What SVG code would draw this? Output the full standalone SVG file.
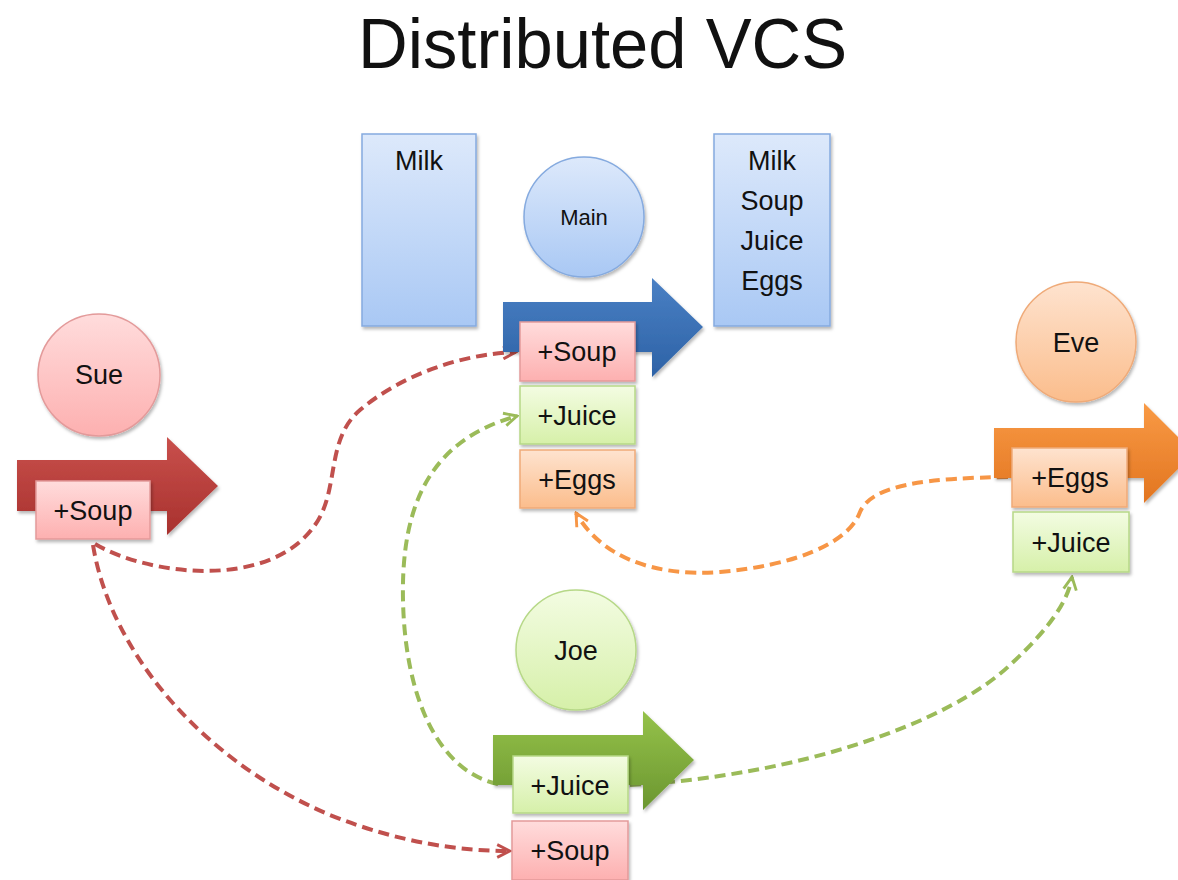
<svg xmlns="http://www.w3.org/2000/svg" width="1178" height="880" viewBox="0 0 1178 880">
<defs>
<filter id="sh" x="-20%" y="-20%" width="140%" height="150%"><feDropShadow dx="1.5" dy="2.5" stdDeviation="1.8" flood-color="#000" flood-opacity="0.28"/></filter>
<linearGradient id="gBlue" x1="0" y1="0" x2="0" y2="1"><stop offset="0" stop-color="#dde9fb"/><stop offset="1" stop-color="#a9c8f4"/></linearGradient>
<linearGradient id="gRed" x1="0" y1="0" x2="0" y2="1"><stop offset="0" stop-color="#ffdcdc"/><stop offset="1" stop-color="#fdb0b0"/></linearGradient>
<linearGradient id="gGreen" x1="0" y1="0" x2="0" y2="1"><stop offset="0" stop-color="#f3fce2"/><stop offset="1" stop-color="#d6f0a9"/></linearGradient>
<linearGradient id="gOrange" x1="0" y1="0" x2="0" y2="1"><stop offset="0" stop-color="#fee3cf"/><stop offset="1" stop-color="#fbbd8c"/></linearGradient>
<linearGradient id="aBlue" x1="0" y1="0" x2="0" y2="1"><stop offset="0" stop-color="#4a80c4"/><stop offset="1" stop-color="#2d62a6"/></linearGradient>
<linearGradient id="aRed" x1="0" y1="0" x2="0" y2="1"><stop offset="0" stop-color="#c9504c"/><stop offset="1" stop-color="#a8312e"/></linearGradient>
<linearGradient id="aGreen" x1="0" y1="0" x2="0" y2="1"><stop offset="0" stop-color="#95c24a"/><stop offset="1" stop-color="#6b9630"/></linearGradient>
<linearGradient id="aOrange" x1="0" y1="0" x2="0" y2="1"><stop offset="0" stop-color="#f99a45"/><stop offset="1" stop-color="#e27520"/></linearGradient>
<marker id="mRed" viewBox="0 0 10 10" refX="9" refY="5" markerWidth="4" markerHeight="4" orient="auto"><path d="M1,1 L9,5 L1,9" fill="none" stroke="#c0504d" stroke-width="1.8"/></marker>
<marker id="mGreen" viewBox="0 0 10 10" refX="9" refY="5" markerWidth="4" markerHeight="4" orient="auto"><path d="M1,1 L9,5 L1,9" fill="none" stroke="#9bbb59" stroke-width="1.8"/></marker>
<marker id="mOrange" viewBox="0 0 10 10" refX="9" refY="5" markerWidth="4" markerHeight="4" orient="auto"><path d="M1,1 L9,5 L1,9" fill="none" stroke="#f79646" stroke-width="1.8"/></marker>
</defs>
<style>
text{font-family:"Liberation Sans",Arial,sans-serif;fill:#111;text-anchor:middle}
.title{font-size:70px;text-anchor:start}
.lbl{font-size:27px}
.small{font-size:22px}
.conn{fill:none;stroke-width:4;stroke-dasharray:11 6}
.red{stroke:#c0504d}
.green{stroke:#9bbb59}
.orange{stroke:#f79646}
.bx-blue{fill:url(#gBlue);stroke:#85aadf;stroke-width:1.5;filter:url(#sh)}
.bx-red{fill:url(#gRed);stroke:#e39a9a;stroke-width:1.5;filter:url(#sh)}
.bx-green{fill:url(#gGreen);stroke:#b6d887;stroke-width:1.5;filter:url(#sh)}
.bx-orange{fill:url(#gOrange);stroke:#efaa78;stroke-width:1.5;filter:url(#sh)}
</style>
<rect width="1178" height="880" fill="#fff"/>
<text class="title" x="358" y="68" textLength="489" lengthAdjust="spacingAndGlyphs">Distributed VCS</text>

<g id="connectors">
<path class="conn red" d="M95,544 C150,576 270,590 315,525 C340,490 325,440 360,410 C400,376 460,354 516,352" marker-end="url(#mRed)"/>
<path class="conn red" d="M93,545 C110,650 200,760 330,815 C400,843 460,851 510,851" marker-end="url(#mRed)"/>
<path class="conn green" d="M498,784 C440,772 405,700 403,600 C401,505 430,440 517,416" marker-end="url(#mGreen)"/>
<path class="conn green" d="M630,785 C800,776 950,722 1010,665 C1048,630 1068,602 1072,577" marker-end="url(#mGreen)"/>
<path class="conn orange" d="M1008,477 C930,478 872,484 860,512 C848,545 790,566 720,572 C650,577 600,555 576,513" marker-end="url(#mOrange)"/>
</g>

<g id="repo-before">
<rect class="bx-blue" x="362" y="134" width="114" height="192"/>
<text class="lbl" x="419" y="170">Milk</text>
</g>

<g id="repo-after">
<rect class="bx-blue" x="714" y="134" width="116" height="192"/>
<text class="lbl" x="772" y="170">Milk</text>
<text class="lbl" x="772" y="210">Soup</text>
<text class="lbl" x="772" y="250">Juice</text>
<text class="lbl" x="772" y="290">Eggs</text>
</g>

<g id="main">
<circle class="bx-blue" cx="584" cy="217" r="60"/>
<text class="small" x="584" y="225">Main</text>
<path d="M503,302 H652 V278 L703,327 L652,377 V352 H503 Z" fill="url(#aBlue)" filter="url(#sh)"/>
<g id="main-soup"><rect class="bx-red" x="520" y="322" width="115" height="59"/><text class="lbl" x="577" y="361">+Soup</text></g>
<g id="main-juice"><rect class="bx-green" x="520" y="386" width="115" height="58"/><text class="lbl" x="577" y="425">+Juice</text></g>
<g id="main-eggs"><rect class="bx-orange" x="520" y="450" width="115" height="58"/><text class="lbl" x="577" y="489">+Eggs</text></g>
</g>

<g id="sue">
<circle class="bx-red" cx="99" cy="375" r="61"/>
<text class="lbl" x="99" y="384">Sue</text>
<path d="M17,460 H167 V437 L218,486 L167,535 V511 H17 Z" fill="url(#aRed)" filter="url(#sh)"/>
<g id="sue-soup"><rect class="bx-red" x="36" y="481" width="114" height="58"/><text class="lbl" x="93" y="520">+Soup</text></g>
</g>

<g id="eve">
<circle class="bx-orange" cx="1076" cy="342" r="60"/>
<text class="lbl" x="1076" y="352">Eve</text>
<path d="M994,428 H1144 V403 L1194,453 L1144,503 V478 H994 Z" fill="url(#aOrange)" filter="url(#sh)"/>
<g id="eve-eggs"><rect class="bx-orange" x="1012" y="448" width="115" height="59"/><text class="lbl" x="1070" y="487">+Eggs</text></g>
<g id="eve-juice"><rect class="bx-green" x="1013" y="512" width="116" height="60"/><text class="lbl" x="1071" y="552">+Juice</text></g>
</g>

<g id="joe">
<circle class="bx-green" cx="576" cy="650" r="60"/>
<text class="lbl" x="576" y="660">Joe</text>
<path d="M493,735 H643 V711 L694,760 L643,810 V785 H493 Z" fill="url(#aGreen)" filter="url(#sh)"/>
<g id="joe-juice"><rect class="bx-green" x="513" y="756" width="115" height="57"/><text class="lbl" x="570" y="795">+Juice</text></g>
<g id="joe-soup"><rect class="bx-red" x="512" y="821" width="116" height="59"/><text class="lbl" x="570" y="860">+Soup</text></g>
</g>
</svg>
